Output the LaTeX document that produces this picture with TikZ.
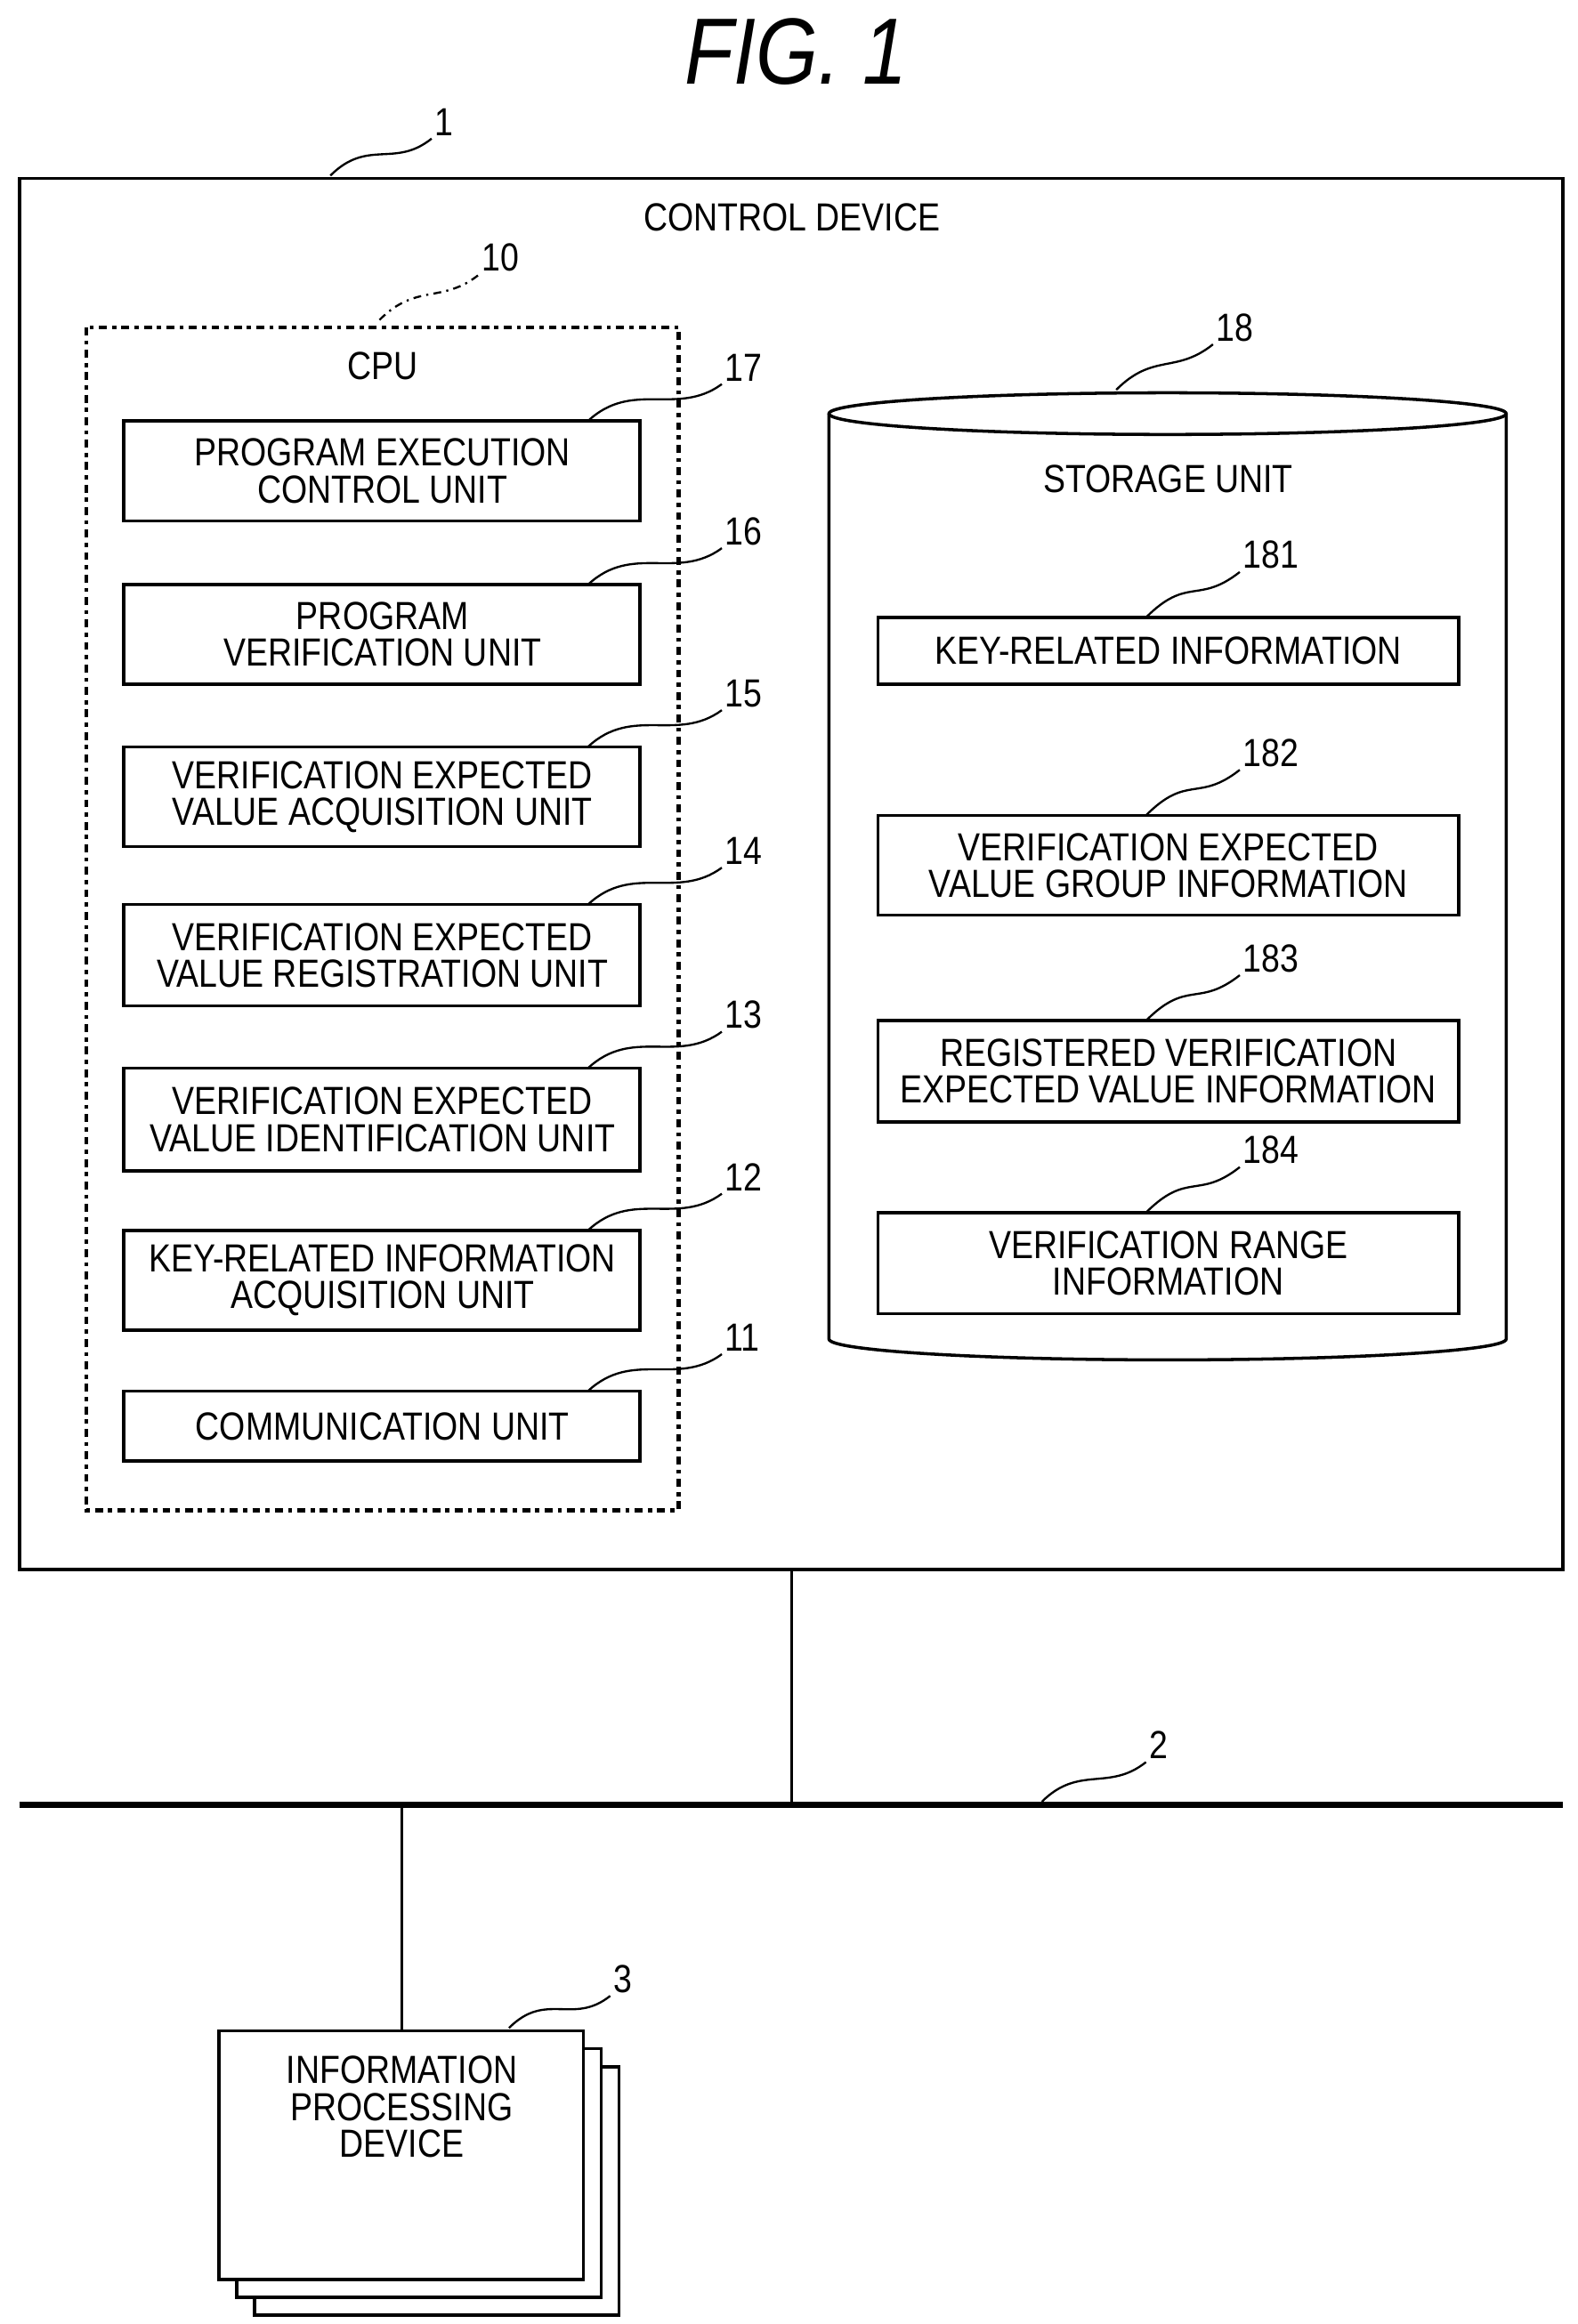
\documentclass[tikz,border=0pt]{standalone}
\usepackage{fontspec}
\setmainfont{Liberation Sans}[FakeStretch=0.85]
\usetikzlibrary{positioning,calc}

\begin{document}
\begin{tikzpicture}[
  x=0.02cm, y=-0.02cm,
  lbl/.style={font=\fontsize{15}{14}\selectfont, align=center},
  num/.style={font=\fontsize{15}{15}\selectfont, anchor=west, inner sep=1pt},
  squig/.style={thick},
  every node/.style={lbl}
]
\useasboundingbox (0,0) rectangle (1060,1562);

% Title
\node[font=\fontsize{36}{36}\selectfont\itshape] (title) at (535,35) {FIG. 1};

% Control device
\draw[very thick] (13,120) rectangle (1050,1055);
\node (ctrl) at (532,146) {CONTROL DEVICE};
\node[num] (n1) at (290,82) {1};
\draw[squig] (222,118) .. controls +(25,-25) and +(-25,20) .. (n1.south west);

% CPU
\draw[line width=1.6pt, dash dot] (58,220) rectangle (456,1015);
\node (cpu) at (257,246) {CPU};
\node[num] (n10) at (322,173) {10};
\draw[squig, dash dot] (255,215) .. controls +(25,-25) and +(-25,20) .. (n10.south west);

% Units inside the CPU
\foreach \top/\bot/\id/\txt in {
  283/350/17/{PROGRAM EXECUTION\\CONTROL UNIT},
  393/460/16/{PROGRAM\\VERIFICATION UNIT},
  502/569/15/{VERIFICATION EXPECTED\\VALUE ACQUISITION UNIT},
  608/676/14/{VERIFICATION EXPECTED\\VALUE REGISTRATION UNIT},
  718/787/13/{VERIFICATION EXPECTED\\VALUE IDENTIFICATION UNIT},
  827/894/12/{KEY-RELATED INFORMATION\\ACQUISITION UNIT},
  935/982/11/{COMMUNICATION UNIT}} {
  \draw[very thick] (83,\top) rectangle (430,\bot);
  \node (u\id) at (257,{(\top+\bot)/2}) {\txt};
  \node[num] (n\id) at (485,{\top-36}) {\id};
  \draw[squig] (395,\top) .. controls +(30,-28) and +(-30,22) .. (n\id.south west);
}

% Storage unit
\draw[very thick] (784.5,278) ellipse (227.5 and 14);
\draw[very thick] (557,278) -- (557,900) arc (180:0:227.5 and 14) -- (1012,278);
\node (stlbl) at (785,322) {STORAGE UNIT};
\node[num] (n18) at (815,220) {18};
\draw[squig] (750,262) .. controls +(25,-25) and +(-25,20) .. (n18.south west);

\foreach \top/\bot/\id/\txt in {
  415/460/181/{KEY-RELATED INFORMATION},
  548/615/182/{VERIFICATION EXPECTED\\VALUE GROUP INFORMATION},
  686/754/183/{REGISTERED VERIFICATION\\EXPECTED VALUE INFORMATION},
  815/883/184/{VERIFICATION RANGE\\INFORMATION}} {
  \draw[very thick] (590,\top) rectangle (980,\bot);
  \node (s\id) at (785,{(\top+\bot)/2}) {\txt};
  \node[num] (n\id) at (833,{\top-42}) {\id};
  \draw[squig] (770,\top) .. controls +(28,-28) and +(-28,22) .. (n\id.south west);
}

% Network
\coordinate (bus1) at (532,1213);
\coordinate (bus2) at (270,1213);
\draw[thick] (532,1055) -- (bus1);
\draw[line width=2.2pt] (13,1213) -- (1050,1213);
\node[num] (n2) at (770,1173) {2};
\draw[squig] (700,1211) .. controls +(25,-25) and +(-25,20) .. (n2.south west);

% Information processing devices
\draw[very thick, fill=white] (171,1389) rectangle (416,1556);
\draw[very thick, fill=white] (159,1377) rectangle (404,1544);
\draw[very thick, fill=white] (147,1365) rectangle (392,1532);
\node (info) at (270,1416) {INFORMATION\\PROCESSING\\DEVICE};
\draw[thick] (bus2) -- (270,1365);
\node[num] (n3) at (410,1330) {3};
\draw[squig] (342,1363) .. controls +(25,-25) and +(-25,20) .. (n3.south west);
\end{tikzpicture}
\end{document}
